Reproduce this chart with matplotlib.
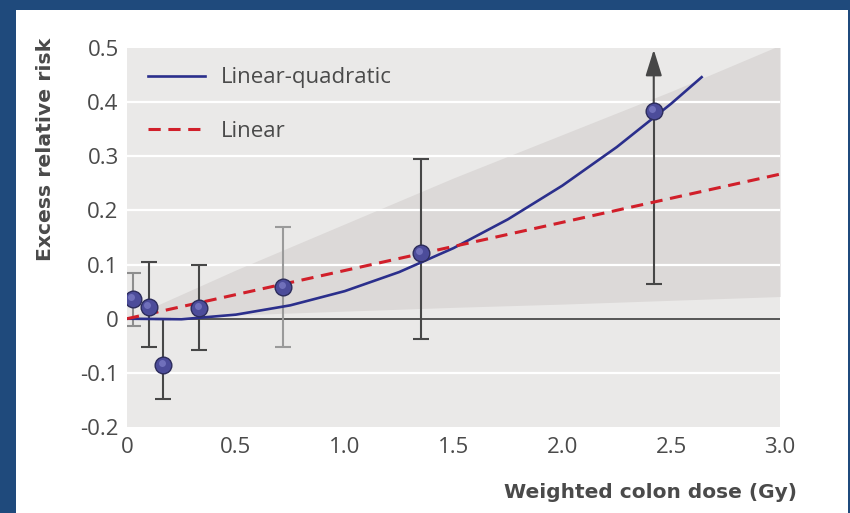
import numpy as np
import matplotlib
matplotlib.use('Agg')
import matplotlib.pyplot as plt
from matplotlib.patches import Rectangle
import matplotlib.transforms as mtransforms

plt.rcParams['font.family'] = ['Open Sans', 'DejaVu Sans']

# data
dose = [0.028, 0.101, 0.167, 0.332, 0.718, 1.35, 2.42]
err = [0.036, 0.022, -0.086, 0.019, 0.058, 0.121, 0.384]
ci_low = [-0.014, -0.053, -0.148, -0.057, -0.052, -0.037, 0.065]
ci_high = [0.085, 0.104, 0.0, 0.100, 0.170, 0.295, 0.497]  # last one is open (arrow)

# fitted curves
lq_dose = [0, 0.25, 0.5, 0.75, 1.0, 1.25, 1.5, 1.75, 2.0, 2.25, 2.5, 2.64]
lq_err = [0, -0.001, 0.0075, 0.0247, 0.0509, 0.0861, 0.1304, 0.1836, 0.2458, 0.317, 0.3972, 0.4461]
lin_dose = [0, 3.0]
lin_err = [0, 0.267]

# confidence band of linear fit
band_dose = [0, 0.5, 1.0, 1.5, 2.0, 2.5, 3.0]
band_low = [0, 0.007, 0.014, 0.021, 0.027, 0.034, 0.041]
band_high = [0, 0.09, 0.175, 0.26, 0.34, 0.42, 0.505]

yticks = [-0.2, -0.1, 0, 0.1, 0.2, 0.3, 0.4, 0.5]
ytick_labels = ['-0.2', '-0.1', '0', '0.1', '0.2', '0.3', '0.4', '0.5']
xticks = [0, 0.5, 1.0, 1.5, 2.0, 2.5, 3.0]
xtick_labels = ['0', '0.5', '1.0', '1.5', '2.0', '2.5', '3.0']

bar_colors = ['#8e8e8e', '#474747', '#474747', '#474747', '#9a9a9a', '#474747', '#474747']
txt = '#4a4a4a'

fig = plt.figure(figsize=(8.5, 5.13), dpi=100, facecolor='#1f4a7c')
fig.patches.append(Rectangle((16 / 850, 0), 832 / 850, 503 / 513, transform=fig.transFigure,
                             facecolor='white', edgecolor='none', zorder=-10))
ax = fig.add_axes([127 / 850, 86 / 513, 653 / 850, 379 / 513])
ax.set_facecolor('#eae9e8')
for s in ax.spines.values():
    s.set_visible(False)

ax.set_xlim(0, 3.0)
ax.set_ylim(-0.2, 0.5)

# band
ax.fill_between(band_dose, band_low, band_high, color='#dcd9d8', lw=0, zorder=0.5)

# white grid lines
for y in [-0.1, 0.1, 0.2, 0.3, 0.4]:
    ax.axhline(y, color='white', lw=1.6, zorder=1)
ax.axhline(0, color='#555555', lw=1.4, zorder=1.2)

# error bars
for i in range(len(dose)):
    if i == len(dose) - 1:
        ax.errorbar(dose[i], err[i], yerr=[[err[i] - ci_low[i]], [0]], fmt='none',
                    ecolor=bar_colors[i], elinewidth=1.5, capsize=6, capthick=1.5, zorder=2)
        ax.annotate('', xy=(dose[i], ci_high[i]), xytext=(dose[i], err[i]),
                    arrowprops=dict(arrowstyle='-|>,head_length=0.8,head_width=0.25',
                                    color=bar_colors[i], lw=1.5, mutation_scale=20,
                                    shrinkA=0, shrinkB=0), zorder=2)
    else:
        ax.errorbar(dose[i], err[i], yerr=[[err[i] - ci_low[i]], [ci_high[i] - err[i]]],
                    fmt='none', ecolor=bar_colors[i], elinewidth=1.5, capsize=6,
                    capthick=1.5, zorder=2)

# fits
ax.plot(lq_dose, lq_err, color='#2b2f8c', lw=1.9, zorder=3, label='Linear-quadratic')
ax.plot(lin_dose, lin_err, color='#d11f2a', lw=2.2, ls=(0, (4, 2.5)), zorder=3, label='Linear')

# markers (sphere look)
ax.plot(dose, err, 'o', ms=12, mfc='#4c4c9a', mec='#2c2c5c', mew=1.0, zorder=4)
hl = mtransforms.offset_copy(ax.transData, fig=fig, x=-1.2, y=1.4, units='points')
ax.plot(dose, err, 'o', ms=5, mfc='#7a7ac4', mec='none', zorder=5, transform=hl, alpha=0.8)

# ticks
ax.set_yticks(yticks)
ax.set_yticklabels(ytick_labels)
ax.set_xticks(xticks)
ax.set_xticklabels(xtick_labels)
ax.tick_params(axis='y', length=0, pad=6, labelsize=16, labelcolor=txt)
ax.tick_params(axis='x', length=0, pad=7, labelsize=16, labelcolor=txt)
ax.set_xticks([0.5, 1.0, 1.5, 2.0, 2.5], minor=True)
ax.tick_params(axis='x', which='minor', direction='in', length=7, width=1.5, color='white')

leg = ax.legend(loc='upper left', bbox_to_anchor=(0.032, 0.949), frameon=False,
                fontsize=16, handlelength=2.55, handletextpad=0.75, labelspacing=1.45,
                borderpad=0, borderaxespad=0)
for t in leg.get_texts():
    t.set_color(txt)

fig.text(46 / 850, 1 - 38 / 513, 'Excess relative risk', rotation=90, ha='center', va='top',
         fontsize=14.7, fontweight='bold', color=txt, family='DejaVu Sans')
fig.text(797 / 850, 1 - 493 / 513, 'Weighted colon dose (Gy)', ha='right', va='center',
         fontsize=14.5, fontweight='bold', color=txt, family='DejaVu Sans')

fig.savefig('out.png', dpi=100, facecolor=fig.get_facecolor())
